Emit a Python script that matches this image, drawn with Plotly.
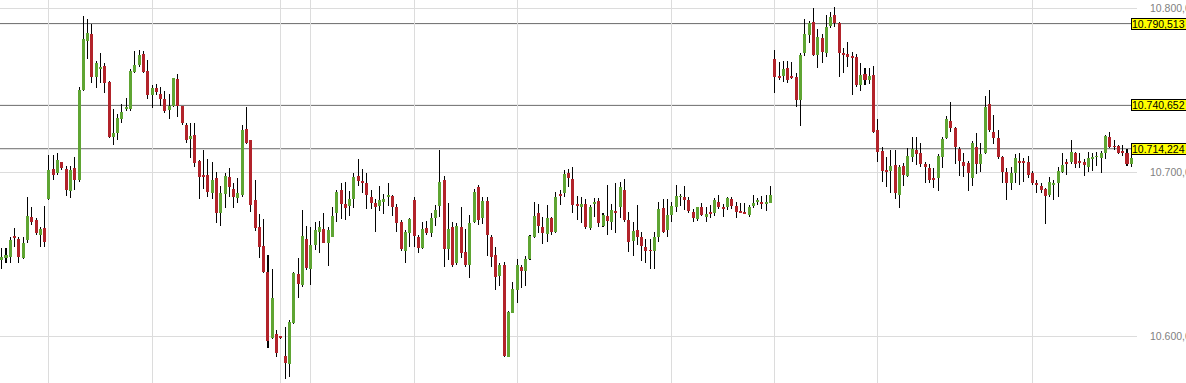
import plotly.graph_objects as go

# ---------------- data ----------------
opens = [
    10646.8, 10647.8, 10648.4, 10660.4, 10659.0, 10647.4, 10658.6, 10672.4, 10670.8, 10661.6,
    10665.7, 10683.4, 10701.6, 10699.2, 10705.9, 10701.6, 10688.6, 10702.3, 10695.1, 10750.0,
    10780.1, 10784.2, 10758.2, 10762.8, 10764.7, 10755.1, 10721.6, 10724.0, 10732.1, 10738.6,
    10738.2, 10761.2, 10765.3, 10772.0, 10761.8, 10747.0, 10751.0, 10747.6, 10744.3, 10737.8,
    10740.3, 10756.5, 10740.3, 10728.7, 10720.1, 10722.6, 10706.7, 10698.2, 10698.2, 10687.4,
    10696.2, 10675.2, 10686.6, 10696.8, 10689.5, 10684.0, 10686.0, 10726.0, 10719.5, 10682.9,
    10666.7, 10654.9, 10639.3, 10598.6, 10601.2, 10599.4, 10587.8, 10583.0, 10608.2, 10637.8,
    10631.1, 10659.4, 10640.7, 10655.5, 10663.6, 10665.1, 10656.5, 10660.6, 10674.8, 10689.0,
    10680.5, 10679.3, 10683.4, 10697.6, 10694.5, 10693.5, 10685.0, 10680.9, 10679.3, 10681.9,
    10685.0, 10685.4, 10678.5, 10669.7, 10652.1, 10662.6, 10682.9, 10660.2, 10653.5, 10665.7,
    10662.6, 10671.8, 10679.3, 10695.1, 10652.9, 10666.7, 10644.3, 10666.7, 10651.4, 10643.3,
    10669.7, 10690.7, 10671.8, 10682.5, 10660.2, 10649.4, 10636.6, 10643.3, 10587.4, 10614.3,
    10628.1, 10642.3, 10639.9, 10646.8, 10660.6, 10675.2, 10666.7, 10662.2, 10671.8, 10663.6,
    10686.4, 10687.0, 10699.6, 10695.6, 10680.3, 10678.5, 10680.5, 10665.7, 10680.5, 10682.5,
    10667.1, 10673.2, 10669.7, 10676.4, 10678.5, 10689.0, 10670.8, 10658.2, 10664.7, 10660.6,
    10654.1, 10652.3, 10652.1, 10660.2, 10677.9, 10664.7, 10673.8, 10678.9, 10684.8, 10685.0,
    10682.9, 10675.8, 10671.2, 10678.5, 10672.8, 10675.8, 10674.8, 10681.9, 10678.1, 10678.5,
    10683.6, 10679.3, 10676.0, 10675.8, 10673.8, 10679.3, 10682.1, 10681.9, 10680.5, 10681.3,
    10768.7, 10758.0, 10758.6, 10763.2, 10758.0, 10757.7, 10743.9, 10772.4, 10783.6, 10791.7,
    10771.4, 10781.5, 10772.8, 10789.0, 10795.8, 10790.7, 10772.2, 10772.0, 10770.1, 10770.3,
    10753.1, 10759.8, 10756.1, 10759.2, 10725.6, 10713.0, 10701.0, 10700.8, 10704.3, 10686.0,
    10703.7, 10697.6, 10709.4, 10713.4, 10711.4, 10704.9, 10702.3, 10695.8, 10696.2, 10709.0,
    10720.6, 10731.3, 10726.6, 10713.8, 10706.3, 10705.7, 10696.2, 10715.5, 10704.9, 10711.4,
    10741.5, 10724.6, 10720.6, 10709.0, 10700.2, 10693.1, 10699.2, 10706.5, 10706.5, 10706.3,
    10699.6, 10693.5, 10691.5, 10689.5, 10686.0, 10692.7, 10693.5, 10700.2, 10705.5, 10706.3,
    10711.4, 10706.5, 10705.9, 10703.3, 10708.2, 10709.2, 10708.4, 10711.8, 10721.6, 10715.7,
    10715.9, 10712.6, 10711.4, 10704.9,
]
highs = [
    10653.5, 10653.5, 10660.2, 10665.7, 10660.2, 10660.2, 10684.6, 10678.9, 10671.8, 10666.3,
    10679.3, 10710.4, 10710.4, 10711.4, 10706.3, 10703.9, 10703.9, 10709.4, 10751.6, 10795.1,
    10793.1, 10790.3, 10767.9, 10772.4, 10766.3, 10755.5, 10738.2, 10735.4, 10741.3, 10744.9,
    10762.6, 10774.0, 10774.4, 10774.0, 10768.3, 10753.1, 10753.7, 10752.1, 10749.6, 10747.4,
    10757.5, 10759.8, 10740.5, 10730.1, 10730.1, 10729.7, 10707.3, 10713.4, 10707.7, 10706.3,
    10700.2, 10691.5, 10699.6, 10702.3, 10693.5, 10696.2, 10728.7, 10739.9, 10719.7, 10695.1,
    10674.4, 10671.2, 10649.4, 10640.7, 10603.7, 10600.0, 10605.3, 10609.8, 10639.3, 10647.4,
    10676.9, 10667.1, 10666.3, 10669.7, 10670.3, 10674.8, 10666.7, 10678.5, 10689.0, 10693.5,
    10694.1, 10688.6, 10699.2, 10707.7, 10701.6, 10699.2, 10689.0, 10683.4, 10691.5, 10686.4,
    10693.5, 10686.0, 10680.5, 10670.8, 10664.7, 10671.8, 10685.0, 10661.6, 10669.7, 10670.3,
    10674.8, 10679.9, 10713.4, 10697.6, 10680.9, 10669.7, 10669.1, 10678.9, 10665.1, 10673.8,
    10689.5, 10692.1, 10685.0, 10684.6, 10661.6, 10654.1, 10644.7, 10645.3, 10615.5, 10633.2,
    10646.8, 10643.3, 10648.8, 10661.6, 10681.9, 10680.5, 10672.4, 10679.9, 10672.4, 10688.0,
    10689.0, 10701.2, 10701.6, 10702.9, 10685.4, 10685.0, 10683.4, 10679.9, 10684.0, 10684.0,
    10674.8, 10692.1, 10680.5, 10693.1, 10694.1, 10695.6, 10675.8, 10669.7, 10679.9, 10663.6,
    10659.0, 10659.0, 10663.6, 10681.9, 10683.4, 10683.4, 10681.9, 10692.1, 10686.6, 10691.5,
    10685.0, 10677.3, 10678.9, 10680.9, 10678.5, 10679.9, 10684.0, 10686.0, 10680.5, 10684.6,
    10684.6, 10681.9, 10681.3, 10681.3, 10679.9, 10686.0, 10684.0, 10685.4, 10686.0, 10691.5,
    10774.4, 10767.3, 10767.9, 10767.9, 10767.3, 10760.6, 10772.4, 10793.1, 10792.3, 10799.8,
    10787.0, 10784.2, 10795.8, 10797.8, 10800.4, 10791.7, 10775.4, 10779.5, 10773.4, 10772.0,
    10766.3, 10763.2, 10763.2, 10764.7, 10732.1, 10715.5, 10709.4, 10713.4, 10713.4, 10704.3,
    10705.7, 10714.5, 10721.2, 10721.6, 10717.5, 10706.3, 10704.9, 10702.3, 10711.0, 10721.2,
    10734.2, 10742.9, 10727.3, 10715.5, 10711.8, 10706.9, 10719.1, 10724.0, 10717.9, 10746.4,
    10750.0, 10734.8, 10725.6, 10709.8, 10702.3, 10702.9, 10711.0, 10711.4, 10708.4, 10709.8,
    10700.8, 10695.1, 10693.1, 10690.1, 10697.2, 10695.1, 10702.9, 10711.4, 10707.7, 10719.5,
    10712.4, 10711.4, 10707.7, 10712.4, 10711.8, 10712.4, 10713.0, 10722.6, 10724.6, 10719.5,
    10716.5, 10716.5, 10713.8, 10713.4,
]
lows = [
    10640.7, 10644.3, 10644.3, 10654.5, 10644.3, 10646.8, 10656.5, 10667.7, 10661.6, 10654.5,
    10654.1, 10682.9, 10695.1, 10698.2, 10701.2, 10685.4, 10684.0, 10689.0, 10694.1, 10749.6,
    10768.7, 10754.1, 10751.0, 10754.1, 10748.0, 10720.6, 10716.5, 10719.5, 10730.1, 10737.2,
    10737.4, 10760.2, 10764.3, 10760.6, 10744.3, 10738.8, 10747.0, 10740.3, 10735.8, 10732.1,
    10739.9, 10733.8, 10728.7, 10717.9, 10708.4, 10703.3, 10683.8, 10689.5, 10685.0, 10683.4,
    10669.1, 10667.1, 10677.9, 10685.0, 10677.9, 10680.9, 10685.0, 10717.1, 10675.8, 10664.3,
    10647.4, 10638.6, 10592.5, 10598.0, 10587.4, 10598.4, 10573.6, 10574.8, 10607.3, 10623.0,
    10630.1, 10640.3, 10631.1, 10652.5, 10650.8, 10656.5, 10642.7, 10660.2, 10669.7, 10671.2,
    10670.8, 10673.2, 10677.9, 10691.5, 10687.4, 10677.3, 10677.3, 10663.6, 10676.4, 10674.2,
    10679.3, 10673.2, 10663.6, 10652.1, 10644.3, 10654.5, 10654.5, 10650.4, 10652.9, 10661.6,
    10660.6, 10667.1, 10672.8, 10642.3, 10646.4, 10642.3, 10643.3, 10647.4, 10642.3, 10635.2,
    10669.1, 10667.7, 10668.3, 10648.8, 10642.3, 10628.1, 10630.5, 10587.4, 10587.0, 10613.8,
    10619.9, 10629.1, 10630.5, 10646.4, 10659.6, 10662.6, 10656.1, 10657.5, 10661.6, 10663.0,
    10679.9, 10684.6, 10690.7, 10674.8, 10670.8, 10669.1, 10665.1, 10664.7, 10672.8, 10666.3,
    10666.3, 10661.6, 10664.7, 10662.6, 10671.8, 10669.7, 10651.4, 10648.8, 10655.5, 10646.0,
    10644.3, 10640.7, 10640.7, 10657.5, 10662.6, 10660.6, 10669.7, 10675.8, 10679.3, 10676.9,
    10674.8, 10669.7, 10670.3, 10673.2, 10669.7, 10671.8, 10673.2, 10677.3, 10672.4, 10676.9,
    10677.3, 10671.8, 10674.8, 10674.4, 10672.8, 10677.9, 10679.9, 10677.3, 10676.4, 10680.9,
    10748.4, 10756.1, 10755.1, 10754.5, 10756.5, 10739.5, 10728.1, 10770.8, 10778.5, 10770.8,
    10763.2, 10766.3, 10770.3, 10787.6, 10788.6, 10757.7, 10760.6, 10764.3, 10747.0, 10751.6,
    10749.6, 10753.1, 10753.7, 10724.0, 10706.3, 10694.1, 10691.1, 10687.4, 10683.4, 10677.9,
    10691.5, 10697.2, 10706.3, 10704.3, 10703.3, 10693.5, 10693.5, 10690.1, 10688.6, 10702.3,
    10719.9, 10724.6, 10704.9, 10697.6, 10697.2, 10688.6, 10691.5, 10698.8, 10700.2, 10711.0,
    10724.6, 10717.1, 10707.7, 10693.1, 10682.9, 10689.0, 10693.5, 10692.1, 10694.1, 10696.2,
    10692.1, 10687.0, 10687.0, 10668.3, 10685.0, 10682.9, 10684.6, 10699.6, 10698.2, 10704.9,
    10702.3, 10702.3, 10697.6, 10700.2, 10700.8, 10703.7, 10699.6, 10707.7, 10714.5, 10713.4,
    10711.0, 10709.8, 10703.7, 10703.3,
]
closes = [
    10648.0, 10649.4, 10658.6, 10660.0, 10648.4, 10656.5, 10673.2, 10669.7, 10662.6, 10665.1,
    10657.5, 10701.2, 10698.2, 10707.3, 10702.3, 10689.0, 10701.2, 10695.1, 10750.0, 10780.9,
    10785.0, 10758.2, 10766.3, 10764.3, 10754.5, 10721.6, 10724.0, 10732.7, 10736.8, 10739.0,
    10761.6, 10765.3, 10771.4, 10761.2, 10747.0, 10751.0, 10749.0, 10744.3, 10737.2, 10740.3,
    10757.1, 10740.3, 10729.7, 10719.5, 10722.2, 10705.3, 10697.2, 10697.2, 10688.0, 10695.1,
    10675.2, 10687.4, 10697.6, 10691.1, 10684.6, 10687.0, 10725.6, 10717.9, 10679.9, 10665.7,
    10654.5, 10639.3, 10597.2, 10623.4, 10589.5, 10599.0, 10583.4, 10608.8, 10638.6, 10631.7,
    10661.0, 10641.3, 10655.5, 10664.7, 10666.3, 10656.9, 10664.7, 10673.2, 10688.0, 10680.5,
    10677.9, 10683.4, 10697.2, 10694.7, 10693.7, 10686.0, 10681.3, 10678.5, 10682.9, 10683.8,
    10685.8, 10678.5, 10669.1, 10652.9, 10663.6, 10671.2, 10661.0, 10653.5, 10665.1, 10662.6,
    10671.8, 10676.9, 10694.1, 10652.9, 10665.1, 10643.3, 10667.1, 10650.4, 10643.3, 10669.1,
    10688.0, 10670.8, 10682.5, 10661.6, 10648.4, 10636.2, 10643.3, 10587.8, 10614.9, 10628.5,
    10643.3, 10639.9, 10646.8, 10661.0, 10673.2, 10667.1, 10662.6, 10671.8, 10663.6, 10685.0,
    10685.6, 10698.8, 10696.2, 10679.9, 10679.5, 10680.5, 10666.3, 10678.9, 10681.9, 10669.1,
    10673.8, 10670.3, 10676.9, 10675.2, 10690.7, 10670.8, 10657.5, 10664.3, 10660.6, 10654.9,
    10652.1, 10651.9, 10660.2, 10677.7, 10663.6, 10673.8, 10679.3, 10685.4, 10685.2, 10682.9,
    10676.4, 10671.8, 10678.5, 10673.8, 10674.4, 10674.4, 10682.9, 10678.9, 10677.7, 10684.0,
    10679.3, 10675.8, 10675.6, 10674.8, 10678.5, 10681.3, 10682.5, 10680.5, 10681.9, 10686.0,
    10758.2, 10757.5, 10762.6, 10756.1, 10757.5, 10743.9, 10771.4, 10784.2, 10790.7, 10771.4,
    10782.1, 10773.4, 10788.2, 10794.7, 10790.7, 10772.8, 10771.8, 10770.3, 10769.7, 10753.1,
    10759.2, 10756.1, 10758.6, 10724.6, 10712.4, 10700.8, 10700.6, 10703.9, 10687.0, 10702.9,
    10698.2, 10709.8, 10713.8, 10711.0, 10704.9, 10702.9, 10695.1, 10695.3, 10709.8, 10719.9,
    10732.1, 10726.6, 10715.5, 10706.9, 10703.7, 10699.2, 10717.5, 10704.9, 10711.0, 10739.9,
    10725.6, 10720.6, 10709.0, 10700.2, 10693.5, 10699.6, 10708.4, 10706.1, 10706.1, 10698.2,
    10693.1, 10692.1, 10689.0, 10685.4, 10694.1, 10693.5, 10700.8, 10704.3, 10705.1, 10712.4,
    10704.9, 10706.1, 10704.3, 10708.4, 10708.6, 10709.6, 10711.8, 10722.0, 10715.5, 10715.3,
    10711.8, 10712.2, 10704.9, 10708.4,
]

grid_positions = [11, 35, 65, 72, 96, 120, 156, 180, 204, 240]
y_tick_values = [10600, 10700, 10800]
y_tick_labels = ["10.600,00", "10.700,00", "10.800,00"]
levels = [10790.513, 10740.652, 10714.224]
level_labels = ["10.790,513", "10.740,652", "10.714,224"]

# ---------------- styling ----------------
GREEN = "#5fa533"
RED = "#b2232a"
W, H = 1186, 383
R_MARGIN = 49
PLOT_W = W - R_MARGIN
LABEL_X = 1131 / PLOT_W
FONT = "Liberation Sans, Arial, sans-serif"

x = list(range(len(opens)))
wick_len = [h - l for h, l in zip(highs, lows)]
body_base = [min(o, c) for o, c in zip(opens, closes)]
body_len = [max(abs(c - o), 0.5) for o, c in zip(opens, closes)]
body_col = [GREEN if c >= o else RED for o, c in zip(opens, closes)]

fig = go.Figure()
fig.add_trace(go.Bar(
    x=x, base=lows, y=wick_len, width=0.237,
    marker=dict(color="rgba(0,0,0,0.99)", line=dict(width=0)),
    hoverinfo="skip", showlegend=False,
))
fig.add_trace(go.Bar(
    x=x, base=body_base, y=body_len, width=0.70,
    marker=dict(color=body_col, line=dict(width=0)),
    hoverinfo="skip", showlegend=False,
))

for lv, lab in zip(levels, level_labels):
    fig.add_shape(type="line", xref="paper", x0=0, x1=LABEL_X, yref="y", y0=lv, y1=lv,
                  line=dict(color="#6b6b6b", width=1), layer="below")
    fig.add_annotation(xref="paper", x=LABEL_X, xanchor="left", yref="y", y=lv, yanchor="middle",
                       text=lab, showarrow=False, align="left", width=75, height=10,
                       font=dict(family=FONT, size=10.5, color="black"),
                       bgcolor="#ffff00", bordercolor="black", borderwidth=1, borderpad=0)

fig.update_layout(
    template="none", width=W, height=H,
    margin=dict(l=0, r=R_MARGIN, t=0, b=0, pad=0),
    paper_bgcolor="white", plot_bgcolor="white",
    barmode="overlay", bargap=0, showlegend=False, hovermode=False,
)
fig.update_xaxes(range=[-0.396, 264.33], tickvals=grid_positions, showticklabels=False,
                 showgrid=True, gridcolor="#dcdcdc", gridwidth=1, zeroline=False,
                 showline=False, ticks="", automargin=False, fixedrange=True)
fig.update_yaxes(range=[10571.4, 10804.9], side="right", tickvals=y_tick_values,
                 ticktext=y_tick_labels, showgrid=True, gridcolor="#dcdcdc", gridwidth=1,
                 zeroline=False, showline=False, ticks="", ticklabelstandoff=12,
                 tickfont=dict(family=FONT, size=10.5, color="#7f7f7f"),
                 automargin=False, fixedrange=True)

fig.write_html("out.html", config={"displayModeBar": False})
